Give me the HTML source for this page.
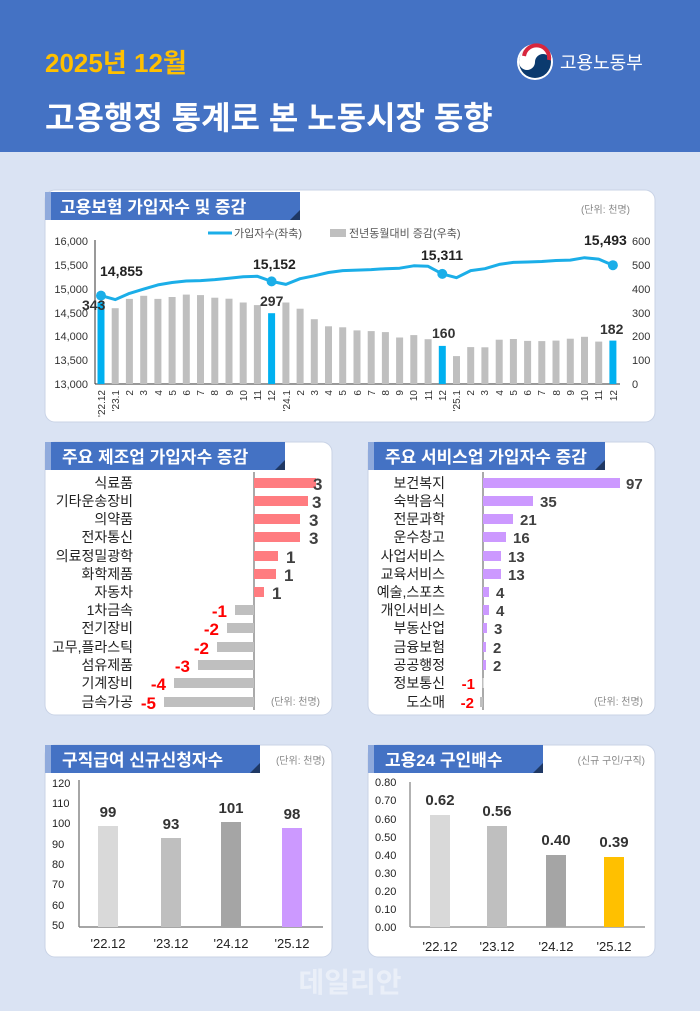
<!DOCTYPE html>
<html><head><meta charset="utf-8"><style>
html,body{margin:0;padding:0;width:700px;height:1011px;overflow:hidden;background:#DAE3F3}
svg{display:block}
text{font-family:"Liberation Sans","Noto Sans CJK KR",sans-serif}
</style></head><body>
<svg width="700" height="1011" viewBox="0 0 700 1011" xmlns="http://www.w3.org/2000/svg">
<rect x="0" y="0" width="700" height="1011" fill="#DAE3F3"/>
<rect x="0" y="0" width="700" height="152" fill="#4472C4"/>
<text x="45" y="72" font-size="26" font-weight="bold" fill="#FFC000">2025년 12월</text>
<text x="45" y="129" font-size="32" font-weight="bold" fill="#fff">고용행정 통계로 본 노동시장 동향</text>
<circle cx="535" cy="62" r="18" fill="#fff"/>
<circle cx="535" cy="62" r="16" fill="#0B3A6E"/>
<path d="M519,62 A16,16 0 0 1 551,62 A8,8 0 0 0 535,62 A8,8 0 0 1 519,62Z" fill="#fff"/>
<path d="M524,56 A12,12 0 0 1 549,60" stroke="#D7263D" stroke-width="4" fill="none"/>
<text x="560" y="69" font-size="18" fill="#fff">고용노동부</text>

<!-- top panel -->
<rect x="45" y="190" width="610" height="232" rx="10" fill="#fff" stroke="#C9D3E6"/>
<rect x="45" y="192" width="255" height="28" fill="#4472C4"/>
<rect x="45" y="192" width="6" height="28" fill="#8FAADC"/>
<path d="M290,220 L300,210 L300,220Z" fill="#1F3864"/>
<text x="60" y="213" font-size="17" font-weight="bold" fill="#fff">고용보험 가입자수 및 증감</text>
<text x="630" y="213" font-size="10" fill="#888" text-anchor="end">(단위: 천명)</text>
<line x1="208" y1="233" x2="232" y2="233" stroke="#1BAEE8" stroke-width="3"/>
<text x="234" y="237" font-size="11" fill="#555">가입자수(좌축)</text>
<rect x="330" y="229" width="16" height="8" fill="#BFBFBF"/>
<text x="349" y="237" font-size="11" fill="#555">전년동월대비 증감(우축)</text>
<g font-size="11" fill="#333" text-anchor="end">
<text x="88" y="245">16,000</text><text x="88" y="269">15,500</text><text x="88" y="293">15,000</text><text x="88" y="317">14,500</text><text x="88" y="340">14,000</text><text x="88" y="364">13,500</text><text x="88" y="388">13,000</text>
</g>
<g font-size="11" fill="#333">
<text x="632" y="245">600</text><text x="632" y="269">500</text><text x="632" y="293">400</text><text x="632" y="317">300</text><text x="632" y="340">200</text><text x="632" y="364">100</text><text x="632" y="388">0</text>
</g>
<line x1="95" y1="240" x2="95" y2="384" stroke="#333"/>
<line x1="95" y1="384" x2="620" y2="384" stroke="#333"/>
<g fill="#BFBFBF">
<rect x="97.5" y="302.2" width="7" height="81.8" fill="#00B0F0"/>
<rect x="111.7" y="308.2" width="7" height="75.8"/>
<rect x="125.9" y="298.9" width="7" height="85.1"/>
<rect x="140.2" y="295.8" width="7" height="88.2"/>
<rect x="154.4" y="298.9" width="7" height="85.1"/>
<rect x="168.6" y="297" width="7" height="87"/>
<rect x="182.8" y="294.6" width="7" height="89.4"/>
<rect x="197" y="295.1" width="7" height="88.9"/>
<rect x="211.3" y="297.7" width="7" height="86.3"/>
<rect x="225.5" y="298.7" width="7" height="85.3"/>
<rect x="239.7" y="302.5" width="7" height="81.5"/>
<rect x="253.9" y="305.1" width="7" height="78.9"/>
<rect x="268.1" y="313.2" width="7" height="70.8" fill="#00B0F0"/>
<rect x="282.4" y="302.5" width="7" height="81.5"/>
<rect x="296.6" y="308.7" width="7" height="75.3"/>
<rect x="310.8" y="319.2" width="7" height="64.8"/>
<rect x="325" y="326.3" width="7" height="57.7"/>
<rect x="339.2" y="327.3" width="7" height="56.7"/>
<rect x="353.5" y="330.4" width="7" height="53.6"/>
<rect x="367.7" y="331.1" width="7" height="52.9"/>
<rect x="381.9" y="332.1" width="7" height="51.9"/>
<rect x="396.1" y="337.5" width="7" height="46.5"/>
<rect x="410.3" y="335.1" width="7" height="48.9"/>
<rect x="424.6" y="339.2" width="7" height="44.8"/>
<rect x="438.8" y="345.9" width="7" height="38.1" fill="#00B0F0"/>
<rect x="453" y="356.1" width="7" height="27.9"/>
<rect x="467.2" y="347.1" width="7" height="36.9"/>
<rect x="481.4" y="347.3" width="7" height="36.7"/>
<rect x="495.7" y="339.7" width="7" height="44.3"/>
<rect x="509.9" y="339" width="7" height="45"/>
<rect x="524.1" y="340.9" width="7" height="43.1"/>
<rect x="538.3" y="341.1" width="7" height="42.9"/>
<rect x="552.5" y="340.6" width="7" height="43.4"/>
<rect x="566.8" y="338.7" width="7" height="45.3"/>
<rect x="581" y="336.8" width="7" height="47.2"/>
<rect x="595.2" y="341.6" width="7" height="42.4"/>
<rect x="609.4" y="340.6" width="7" height="43.4" fill="#00B0F0"/>
</g>
<polyline fill="none" stroke="#1BAEE8" stroke-width="3" stroke-linejoin="round" points="101,295.6 115.2,299.6 129.4,293.4 143.7,289.1 157.9,284.9 172.1,282.5 186.3,281 200.5,280.6 214.8,279.6 229,278.2 243.2,276.8 257.4,276.3 271.6,281.4 285.9,284.4 300.1,278.7 314.3,275.8 328.5,272.5 342.7,270.6 357,270.1 371.2,269.6 385.4,268.7 399.6,268.2 413.8,265.8 428.1,266.3 442.3,273.9 456.5,277.7 470.7,270.6 484.9,268.7 499.2,264.4 513.4,262.4 527.6,262 541.8,261.5 556,260.5 570.3,260.1 584.5,257.7 598.7,259.1 612.9,265.2"/>
<g fill="#1BAEE8"><circle cx="101" cy="295.6" r="5"/><circle cx="271.6" cy="281.4" r="5"/><circle cx="442.3" cy="273.9" r="5"/><circle cx="612.9" cy="265.2" r="5"/></g>
<g font-size="14" font-weight="bold" fill="#222">
<text x="100" y="276">14,855</text><text x="253" y="269">15,152</text><text x="421" y="260">15,311</text><text x="584" y="245">15,493</text>
<text x="82" y="310" fill="#333">343</text><text x="260" y="306" fill="#333">297</text><text x="432" y="338" fill="#333">160</text><text x="600" y="334" fill="#333">182</text>
</g>
<g font-size="10" fill="#333" text-anchor="end">
<text transform="translate(105,390) rotate(-90)">'22.12</text>
<text transform="translate(119,390) rotate(-90)">'23.1</text>
<text transform="translate(133,390) rotate(-90)">2</text>
<text transform="translate(147,390) rotate(-90)">3</text>
<text transform="translate(162,390) rotate(-90)">4</text>
<text transform="translate(176,390) rotate(-90)">5</text>
<text transform="translate(190,390) rotate(-90)">6</text>
<text transform="translate(204,390) rotate(-90)">7</text>
<text transform="translate(218,390) rotate(-90)">8</text>
<text transform="translate(233,390) rotate(-90)">9</text>
<text transform="translate(247,390) rotate(-90)">10</text>
<text transform="translate(261,390) rotate(-90)">11</text>
<text transform="translate(275,390) rotate(-90)">12</text>
<text transform="translate(290,390) rotate(-90)">'24.1</text>
<text transform="translate(304,390) rotate(-90)">2</text>
<text transform="translate(318,390) rotate(-90)">3</text>
<text transform="translate(332,390) rotate(-90)">4</text>
<text transform="translate(346,390) rotate(-90)">5</text>
<text transform="translate(361,390) rotate(-90)">6</text>
<text transform="translate(375,390) rotate(-90)">7</text>
<text transform="translate(389,390) rotate(-90)">8</text>
<text transform="translate(403,390) rotate(-90)">9</text>
<text transform="translate(417,390) rotate(-90)">10</text>
<text transform="translate(432,390) rotate(-90)">11</text>
<text transform="translate(446,390) rotate(-90)">12</text>
<text transform="translate(460,390) rotate(-90)">'25.1</text>
<text transform="translate(474,390) rotate(-90)">2</text>
<text transform="translate(488,390) rotate(-90)">3</text>
<text transform="translate(503,390) rotate(-90)">4</text>
<text transform="translate(517,390) rotate(-90)">5</text>
<text transform="translate(531,390) rotate(-90)">6</text>
<text transform="translate(545,390) rotate(-90)">7</text>
<text transform="translate(560,390) rotate(-90)">8</text>
<text transform="translate(574,390) rotate(-90)">9</text>
<text transform="translate(588,390) rotate(-90)">10</text>
<text transform="translate(602,390) rotate(-90)">11</text>
<text transform="translate(617,390) rotate(-90)">12</text>
</g>

<!-- manufacturing -->
<rect x="45" y="442" width="287" height="273" rx="10" fill="#fff" stroke="#C9D3E6"/>
<rect x="45" y="442" width="240" height="28" fill="#4472C4"/>
<rect x="45" y="442" width="6" height="28" fill="#8FAADC"/>
<path d="M275,470 L285,460 L285,470Z" fill="#1F3864"/>
<text x="62" y="463" font-size="17" font-weight="bold" fill="#fff">주요 제조업 가입자수 증감</text>
<line x1="254" y1="472" x2="254" y2="710" stroke="#555"/>
<g fill="#FF7C80">
<rect x="254" y="478" width="62" height="10"/><rect x="254" y="496" width="54" height="10"/><rect x="254" y="514" width="46" height="10"/><rect x="254" y="532" width="46" height="10"/><rect x="254" y="551" width="24" height="10"/><rect x="254" y="569" width="22" height="10"/><rect x="254" y="587" width="10" height="10"/>
</g>
<g fill="#BFBFBF">
<rect x="235" y="605" width="19" height="10"/><rect x="227" y="623" width="27" height="10"/><rect x="217" y="642" width="37" height="10"/><rect x="198" y="660" width="56" height="10"/><rect x="174" y="678" width="80" height="10"/><rect x="164" y="697" width="90" height="10"/>
</g>
<g font-size="14" fill="#222" text-anchor="end">
<text x="133" y="488">식료품</text><text x="133" y="506">기타운송장비</text><text x="133" y="524">의약품</text><text x="133" y="542">전자통신</text><text x="133" y="561">의료정밀광학</text><text x="133" y="579">화학제품</text><text x="133" y="597">자동차</text><text x="133" y="615">1차금속</text><text x="133" y="633">전기장비</text><text x="133" y="652">고무,플라스틱</text><text x="133" y="670">섬유제품</text><text x="133" y="688">기계장비</text><text x="133" y="707">금속가공</text>
</g>
<g font-size="17" font-weight="bold" fill="#404040">
<text x="313" y="490">3</text><text x="312" y="508">3</text><text x="309" y="526">3</text><text x="309" y="544">3</text><text x="286" y="563">1</text><text x="284" y="581">1</text><text x="272" y="599">1</text>
</g>
<g font-size="17" font-weight="bold" fill="#FF0000" text-anchor="end">
<text x="227" y="617">-1</text><text x="219" y="635">-2</text><text x="209" y="654">-2</text><text x="190" y="672">-3</text><text x="166" y="690">-4</text><text x="156" y="709">-5</text>
</g>
<text x="320" y="705" font-size="10" fill="#888" text-anchor="end">(단위: 천명)</text>

<!-- services -->
<rect x="368" y="442" width="287" height="273" rx="10" fill="#fff" stroke="#C9D3E6"/>
<rect x="368" y="442" width="237" height="28" fill="#4472C4"/>
<rect x="368" y="442" width="6" height="28" fill="#8FAADC"/>
<path d="M595,470 L605,460 L605,470Z" fill="#1F3864"/>
<text x="385" y="463" font-size="17" font-weight="bold" fill="#fff">주요 서비스업 가입자수 증감</text>
<line x1="483" y1="472" x2="483" y2="710" stroke="#555"/>
<g fill="#CC99FF">
<rect x="483" y="478" width="137" height="10"/><rect x="483" y="496" width="50" height="10"/><rect x="483" y="514" width="30" height="10"/><rect x="483" y="532" width="23" height="10"/><rect x="483" y="551" width="18" height="10"/><rect x="483" y="569" width="18" height="10"/><rect x="483" y="587" width="6" height="10"/><rect x="483" y="605" width="6" height="10"/><rect x="483" y="623" width="4" height="10"/><rect x="483" y="642" width="3" height="10"/><rect x="483" y="660" width="3" height="10"/>
</g>
<g fill="#BFBFBF"><rect x="482" y="678" width="1.5" height="10"/><rect x="480" y="697" width="3" height="10"/></g>
<g font-size="14" fill="#222" text-anchor="end">
<text x="445" y="488">보건복지</text><text x="445" y="506">숙박음식</text><text x="445" y="524">전문과학</text><text x="445" y="542">운수창고</text><text x="445" y="561">사업서비스</text><text x="445" y="579">교육서비스</text><text x="445" y="597">예술,스포츠</text><text x="445" y="615">개인서비스</text><text x="445" y="633">부동산업</text><text x="445" y="652">금융보험</text><text x="445" y="670">공공행정</text><text x="445" y="688">정보통신</text><text x="445" y="707">도소매</text>
</g>
<g font-size="15" font-weight="bold" fill="#404040">
<text x="626" y="489">97</text><text x="540" y="507">35</text><text x="520" y="525">21</text><text x="513" y="543">16</text><text x="508" y="562">13</text><text x="508" y="580">13</text><text x="496" y="598">4</text><text x="496" y="616">4</text><text x="494" y="634">3</text><text x="493" y="653">2</text><text x="493" y="671">2</text>
</g>
<g font-size="15" font-weight="bold" fill="#FF0000" text-anchor="end"><text x="475" y="689">-1</text><text x="474" y="708">-2</text></g>
<text x="643" y="705" font-size="10" fill="#888" text-anchor="end">(단위: 천명)</text>

<!-- bottom left -->
<rect x="45" y="745" width="287" height="212" rx="10" fill="#fff" stroke="#C9D3E6"/>
<rect x="45" y="745" width="215" height="28" fill="#4472C4"/>
<rect x="45" y="745" width="6" height="28" fill="#8FAADC"/>
<path d="M250,773 L260,763 L260,773Z" fill="#1F3864"/>
<text x="62" y="766" font-size="17" font-weight="bold" fill="#fff">구직급여 신규신청자수</text>
<text x="325" y="764" font-size="10" fill="#888" text-anchor="end">(단위: 천명)</text>
<g font-size="11" fill="#222">
<text x="52" y="787">120</text><text x="52" y="807">110</text><text x="52" y="827">100</text><text x="52" y="848">90</text><text x="52" y="868">80</text><text x="52" y="888">70</text><text x="52" y="909">60</text><text x="52" y="929">50</text>
</g>
<line x1="79" y1="780" x2="79" y2="927" stroke="#888" stroke-width="1.5"/>
<line x1="79" y1="927" x2="323" y2="927" stroke="#888" stroke-width="1.5"/>
<rect x="98" y="826" width="20" height="101" fill="#D9D9D9"/>
<rect x="161" y="838" width="20" height="89" fill="#BFBFBF"/>
<rect x="221" y="822" width="20" height="105" fill="#A5A5A5"/>
<rect x="282" y="828" width="20" height="99" fill="#CC99FF"/>
<g font-size="15" font-weight="bold" fill="#333" text-anchor="middle">
<text x="108" y="817">99</text><text x="171" y="829">93</text><text x="231" y="813">101</text><text x="292" y="819">98</text>
</g>
<g font-size="13" fill="#222" text-anchor="middle">
<text x="108" y="948">'22.12</text><text x="171" y="948">'23.12</text><text x="231" y="948">'24.12</text><text x="292" y="948">'25.12</text>
</g>

<!-- bottom right -->
<rect x="368" y="745" width="287" height="212" rx="10" fill="#fff" stroke="#C9D3E6"/>
<rect x="368" y="745" width="175" height="28" fill="#4472C4"/>
<rect x="368" y="745" width="6" height="28" fill="#8FAADC"/>
<path d="M533,773 L543,763 L543,773Z" fill="#1F3864"/>
<text x="385" y="766" font-size="17" font-weight="bold" fill="#fff">고용24 구인배수</text>
<text x="645" y="764" font-size="10" fill="#888" text-anchor="end">(신규 구인/구직)</text>
<g font-size="11" fill="#222">
<text x="375" y="786">0.80</text><text x="375" y="804">0.70</text><text x="375" y="823">0.60</text><text x="375" y="841">0.50</text><text x="375" y="859">0.40</text><text x="375" y="877">0.30</text><text x="375" y="895">0.20</text><text x="375" y="913">0.10</text><text x="375" y="931">0.00</text>
</g>
<line x1="410" y1="782" x2="410" y2="927" stroke="#999" stroke-width="1.5"/>
<line x1="410" y1="927" x2="645" y2="927" stroke="#999" stroke-width="1.5"/>
<rect x="430" y="815" width="20" height="112" fill="#D9D9D9"/>
<rect x="487" y="826" width="20" height="101" fill="#BFBFBF"/>
<rect x="546" y="855" width="20" height="72" fill="#A5A5A5"/>
<rect x="604" y="857" width="20" height="70" fill="#FFC000"/>
<g font-size="15" font-weight="bold" fill="#333" text-anchor="middle">
<text x="440" y="805">0.62</text><text x="497" y="816">0.56</text><text x="556" y="845">0.40</text><text x="614" y="847">0.39</text>
</g>
<g font-size="13" fill="#222" text-anchor="middle">
<text x="440" y="951">'22.12</text><text x="497" y="951">'23.12</text><text x="556" y="951">'24.12</text><text x="614" y="951">'25.12</text>
</g>
<text x="350" y="992" font-size="28" font-weight="bold" fill="#ffffff" opacity="0.45" text-anchor="middle">데일리안</text>
</svg>
</body></html>
